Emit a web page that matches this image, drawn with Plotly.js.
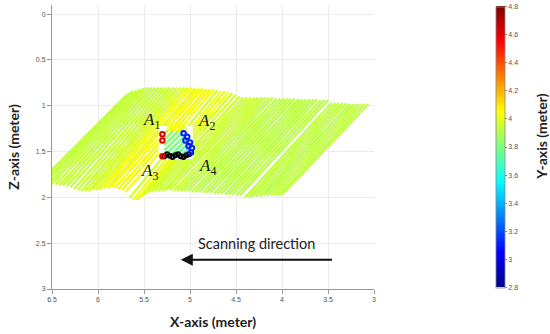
<!DOCTYPE html>
<html>
<head>
<meta charset="utf-8">
<script src="https://cdn.plot.ly/plotly-3.0.1.min.js"></script>
<style>html,body{margin:0;padding:0;background:#fff;}#chart{width:550px;height:334px;}</style>
</head>
<body>
<div id="chart"></div>
<script>
// ---- scan lines (X at lower end, Z at lower end, X at upper end, Z at upper end, Y value) ----
const lineXb = [6.66,6.62,6.58,6.54,6.50,6.46,6.42,6.38,6.34,6.30,6.26,6.22,6.18,6.14,6.10,6.06,6.02,5.98,5.94,5.90,5.86,5.82,5.78,5.74,5.70,5.66,5.62,5.58,5.54,5.50,5.46,5.42,5.38,5.34,5.30,5.26,5.22,5.18,5.14,5.10,5.06,5.02,4.98,4.94,4.90,4.86,4.82,4.78,4.74,4.70,4.66,4.62,4.58,4.54,4.50,4.46,
                4.40,4.36,4.32,4.28,4.24,4.20,4.16,4.12,4.08,4.04,4.00];
const lineZb = [1.86,1.86,1.85,1.85,1.85,1.86,1.87,1.87,1.88,1.89,1.91,1.92,1.93,1.93,1.93,1.92,1.92,1.91,1.90,1.90,1.89,1.90,1.91,1.92,1.94,2.01,2.03,2.03,2.00,1.97,1.95,1.94,1.93,1.93,1.93,1.92,1.92,1.93,1.93,1.93,1.93,1.93,1.94,1.94,1.94,1.95,1.95,1.95,1.96,1.96,1.96,1.97,1.97,1.97,1.98,1.98,
                2.00,2.00,1.99,1.99,1.99,1.98,1.98,1.98,1.98,1.98,1.97];
const lineXt = [5.70,5.66,5.62,5.58,5.54,5.50,5.46,5.42,5.38,5.34,5.30,5.26,5.22,5.18,5.14,5.10,5.06,5.02,4.98,4.94,4.90,4.86,4.82,4.78,4.74,4.70,4.66,4.62,4.58,4.54,4.50,4.46,4.42,4.38,4.34,4.30,4.26,4.22,4.18,4.14,4.10,4.06,4.02,3.98,3.94,3.90,3.86,3.82,3.78,3.74,3.70,3.66,3.62,3.58,3.54,3.50,
                3.46,3.42,3.38,3.34,3.30,3.26,3.22,3.18,3.14,3.10,3.06];
const lineZt = [0.89,0.86,0.84,0.83,0.82,0.81,0.80,0.80,0.80,0.80,0.80,0.80,0.80,0.80,0.80,0.80,0.80,0.80,0.80,0.81,0.81,0.81,0.82,0.82,0.82,0.83,0.84,0.84,0.85,0.86,0.88,0.90,0.91,0.91,0.91,0.91,0.91,0.91,0.91,0.91,0.91,0.92,0.92,0.92,0.92,0.92,0.92,0.93,0.93,0.93,0.93,0.93,0.93,0.94,0.94,0.94,
                0.97,0.97,0.97,0.97,0.97,0.98,0.98,0.98,0.98,0.98,0.98];
const lineVal = [3.93,3.94,3.92,3.95,3.93,3.94,3.95,3.92,3.94,3.93,3.94,3.96,3.93,3.97,3.95,3.99,3.96,4.02,4.04,3.99,4.06,4.02,4.07,4.00,4.05,3.97,4.02,3.99,4.04,3.96,3.99,3.95,3.97,3.94,3.96,3.95,3.93,3.96,3.94,3.93,3.93,3.92,3.94,3.91,3.92,3.93,3.91,3.92,3.91,3.93,3.92,3.91,3.92,3.93,3.91,3.92,
                3.93,3.92,3.94,3.92,3.93,3.91,3.92,3.94,3.93,3.92,3.93];

// ---- sampled patch A1-A4 ----
const patchX = [5.34, 4.97, 4.97, 5.34, 5.34];
const patchZ = [1.22, 1.22, 1.58, 1.58, 1.22];
const gridXb = [5.08,5.14,5.20,5.26,5.28,5.28,5.28,5.28];
const gridZb = [1.53,1.53,1.53,1.53,1.49,1.43,1.37,1.31];
const gridXt = [5.02,5.02,5.02,5.02,5.06,5.12,5.18,5.24];
const gridZt = [1.47,1.41,1.35,1.29,1.27,1.27,1.27,1.27];
const gridVal = [3.72,3.74,3.78,3.80,3.80,3.82,3.84,3.86];

// ---- corner points ----
const ptX = [5.30,5.30,5.30,5.215,5.18,5.14,5.10,5.07,5.07,5.03,5.05,5.00,5.015,4.98,4.99];
const ptZ = [1.31,1.38,1.55,1.245,1.24,1.245,1.24,1.25,1.30,1.34,1.38,1.40,1.44,1.46,1.51];
const ptVal = [4.62,4.62,4.60,4.04,4.02,4.04,4.02,4.01,3.10,3.12,3.10,3.14,3.10,3.12,3.10];
const blackX = [5.28,5.25,5.22,5.19,5.16,5.13,5.10,5.07,5.04,5.01];
const blackZ = [1.55,1.53,1.545,1.56,1.54,1.53,1.55,1.56,1.54,1.53];

// ---- labels ----
const cornerText = ['<i>A</i><sub>1</sub>','<i>A</i><sub>2</sub>','<i>A</i><sub>3</sub>','<i>A</i><sub>4</sub>'];
const cornerX = [5.42, 4.82, 5.44, 4.81];
const cornerZ = [1.17, 1.18, 1.72, 1.67];
const scanText = 'Scanning direction';
const arrowFromX = 3.44, arrowToX = 5.10, arrowZ = 2.68;
const scanTextX = 4.28, scanTextZ = 2.50;

const cMin = 2.8, cMax = 4.8;
const jet = [[0,'rgb(0,0,143)'],[0.125,'rgb(0,0,255)'],[0.375,'rgb(0,255,255)'],[0.625,'rgb(255,255,0)'],[0.875,'rgb(255,0,0)'],[1,'rgb(128,0,0)']];

function parseRgb(s){ return s.match(/\d+/g).map(Number); }
function jetColor(v){
  let t = (v - cMin) / (cMax - cMin);
  t = Math.max(0, Math.min(1, t));
  for (let i = 1; i < jet.length; i++) {
    if (t <= jet[i][0]) {
      const a = parseRgb(jet[i-1][1]), b = parseRgb(jet[i][1]);
      const f = (t - jet[i-1][0]) / (jet[i][0] - jet[i-1][0]);
      const c = a.map((x, k) => Math.round(x + (b[k] - x) * f));
      return 'rgb(' + c.join(',') + ')';
    }
  }
  return jet[jet.length-1][1];
}

const traces = [];
for (let i = 0; i < lineXb.length; i++) {
  traces.push({type:'scatter', mode:'lines', x:[lineXb[i], lineXt[i]], y:[lineZb[i], lineZt[i]],
    line:{color: jetColor(lineVal[i]), width: 2.3}, hoverinfo:'skip', showlegend:false});
}
traces.push({type:'scatter', mode:'lines', x: patchX, y: patchZ, fill:'toself', fillcolor:'#ffffff',
  line:{width:0, color:'#ffffff'}, hoverinfo:'skip', showlegend:false});
for (let i = 0; i < gridXb.length; i++) {
  traces.push({type:'scatter', mode:'lines', x:[gridXb[i], gridXt[i]], y:[gridZb[i], gridZt[i]],
    line:{color: jetColor(gridVal[i]), width: 2.5}, hoverinfo:'skip', showlegend:false});
}
traces.push({type:'scatter', mode:'markers', x: blackX, y: blackZ,
  marker:{symbol:'circle-open', size:4, color:'#000', line:{width:2}}, hoverinfo:'skip', showlegend:false});
traces.push({type:'scatter', mode:'markers', x: ptX, y: ptZ, showlegend:false, hoverinfo:'skip',
  marker:{symbol:'circle-open', size:4.5, line:{width:2}, color: ptVal, colorscale: jet, cmin: cMin, cmax: cMax,
    showscale:true,
    colorbar:{x:1.379, xanchor:'left', xpad:0, y:0.5, yanchor:'middle', ypad:0,
      thickness:9, thicknessmode:'pixels', len:281, lenmode:'pixels',
      outlinewidth:0.8, outlinecolor:'#888',
      tick0:2.8, dtick:0.2, ticks:'outside', ticklen:2, tickcolor:'#888',
      tickfont:{size:7, color:'#555', family:'Liberation Sans, Arial, sans-serif'}}}});

const annotations = [];
for (let i = 0; i < cornerText.length; i++) {
  annotations.push({x: cornerX[i], y: cornerZ[i], xref:'x', yref:'y', text: cornerText[i], showarrow:false,
    font:{family:'Liberation Serif, DejaVu Serif, serif', size:17, color:'#111'}});
}
annotations.push({x: arrowToX, y: arrowZ, ax: arrowFromX, ay: arrowZ, xref:'x', yref:'y', axref:'x', ayref:'y',
  text:'', showarrow:true, arrowhead:2, arrowsize:1.2, arrowwidth:2, arrowcolor:'#111'});
annotations.push({x: scanTextX, y: scanTextZ, xref:'x', yref:'y', text: scanText, showarrow:false,
  font:{family:'Lato, Open Sans, sans-serif', size:14.5, color:'#222'}});
annotations.push({x: 1.55, y: 0.535, xref:'paper', yref:'paper', text:'<b>Y-axis (meter)</b>', textangle:-90,
  showarrow:false, font:{family:'Lato, Open Sans, sans-serif', size:14, color:'#222'}});

const axisCommon = {showgrid:true, gridcolor:'#ebebeb', gridwidth:1, zeroline:false, showline:true,
  linecolor:'#999', linewidth:1, ticks:'outside', ticklen:4, tickcolor:'#999',
  tickfont:{size:7, color:'#555', family:'Liberation Sans, Arial, sans-serif'}};

const layout = {
  width:550, height:334, paper_bgcolor:'#fff', plot_bgcolor:'#fff',
  margin:{l:52, r:176, t:5, b:45},
  showlegend:false,
  xaxis: Object.assign({}, axisCommon, {range:[6.5, 3], tick0:3, dtick:0.5,
    title:{text:'<b>X-axis (meter)</b>', standoff:14, font:{family:'Lato, Open Sans, sans-serif', size:14, color:'#222'}}}),
  yaxis: Object.assign({}, axisCommon, {range:[3, -0.1], tick0:0, dtick:0.5,
    title:{text:'<b>Z-axis (meter)</b>', standoff:12, font:{family:'Lato, Open Sans, sans-serif', size:14, color:'#222'}}}),
  annotations: annotations
};

Plotly.newPlot('chart', traces, layout, {staticPlot:true, displayModeBar:false});
</script>
</body>
</html>
